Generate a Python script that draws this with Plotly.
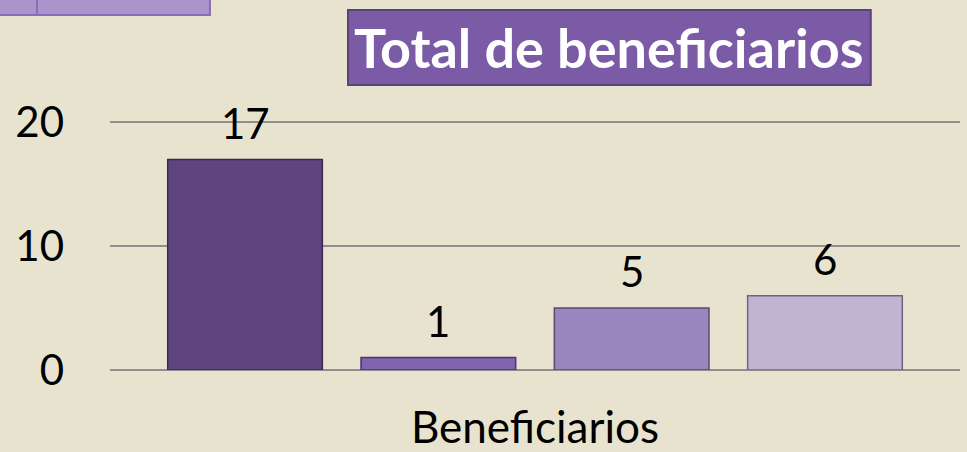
import plotly.graph_objects as go

series_names = ["Serie 1", "Serie 2", "Serie 3", "Serie 4"]
values = [17, 1, 5, 6]
category_label = "Beneficiarios"
title_text = "Total de beneficiarios"
y_ticks = [0, 10, 20]

bar_colors = ["#5f4580", "#8263b0", "#9a86bc", "#bfb4d1"]
bar_edges = ["#3a2850", "#4a3470", "#5a4878", "#6e6488"]

FONT = "Lato"
positions = list(range(len(values)))

fig = go.Figure()
for i, (name, v) in enumerate(zip(series_names, values)):
    fig.add_trace(go.Bar(
        x=[positions[i]], y=[v], name=name, width=0.8,
        marker=dict(color=bar_colors[i], line=dict(color=bar_edges[i], width=1.5)),
        showlegend=False, hoverinfo="skip",
    ))
    fig.add_annotation(x=positions[i], y=v, text=str(v), showarrow=False,
                       yanchor="bottom", yshift=10,
                       font=dict(family=FONT, size=42, color="#000000"))

# title box
fig.add_shape(type="rect", xref="paper", yref="paper",
              x0=0.28, x1=0.895, y0=1.14, y1=1.44,
              fillcolor="#7b5ba6", line=dict(color="#5a427c", width=2), layer="above")
fig.add_annotation(xref="paper", yref="paper", x=0.5876, y=1.29,
                   text="<b>" + title_text + "</b>", showarrow=False,
                   xanchor="center", yanchor="middle",
                   font=dict(family=FONT, size=54, color="#ffffff"))

# partial box at top-left
fig.add_shape(type="rect", xref="paper", yref="paper",
              x0=-0.14, x1=0.1176, y0=1.42, y1=1.55,
              fillcolor="#a994cc", line=dict(color="#8a6db8", width=2), layer="above")
fig.add_shape(type="line", xref="paper", yref="paper",
              x0=-0.0859, x1=-0.0859, y0=1.42, y1=1.55,
              line=dict(color="#8a6db8", width=2), layer="above")

fig.update_layout(
    width=967, height=452,
    margin=dict(l=110, r=7, t=120, b=82, autoexpand=False),
    paper_bgcolor="#e8e3cf", plot_bgcolor="#e8e3cf",
    bargap=0.2,
    font=dict(family=FONT, color="#000000"),
)
fig.update_xaxes(
    range=[-0.6985, 3.6985], automargin=False,
    tickmode="array", tickvals=[1.5], ticktext=[category_label],
    showgrid=False, zeroline=False, showline=False, ticks="",
    tickfont=dict(family=FONT, size=44), ticklabelstandoff=28,
)
fig.update_yaxes(
    range=[0, 20.2], automargin=False, tickmode="array", tickvals=y_ticks,
    showgrid=True, gridcolor="#8f8f8f", gridwidth=2,
    zeroline=True, zerolinecolor="#8f8f8f", zerolinewidth=2,
    showline=False, ticks="",
    tickfont=dict(family=FONT, size=42), ticklabelstandoff=45,
)

fig.write_html("out.html", config={"displayModeBar": False},
               post_script="document.body.style.margin='0';document.body.style.background='#e8e3cf';")
